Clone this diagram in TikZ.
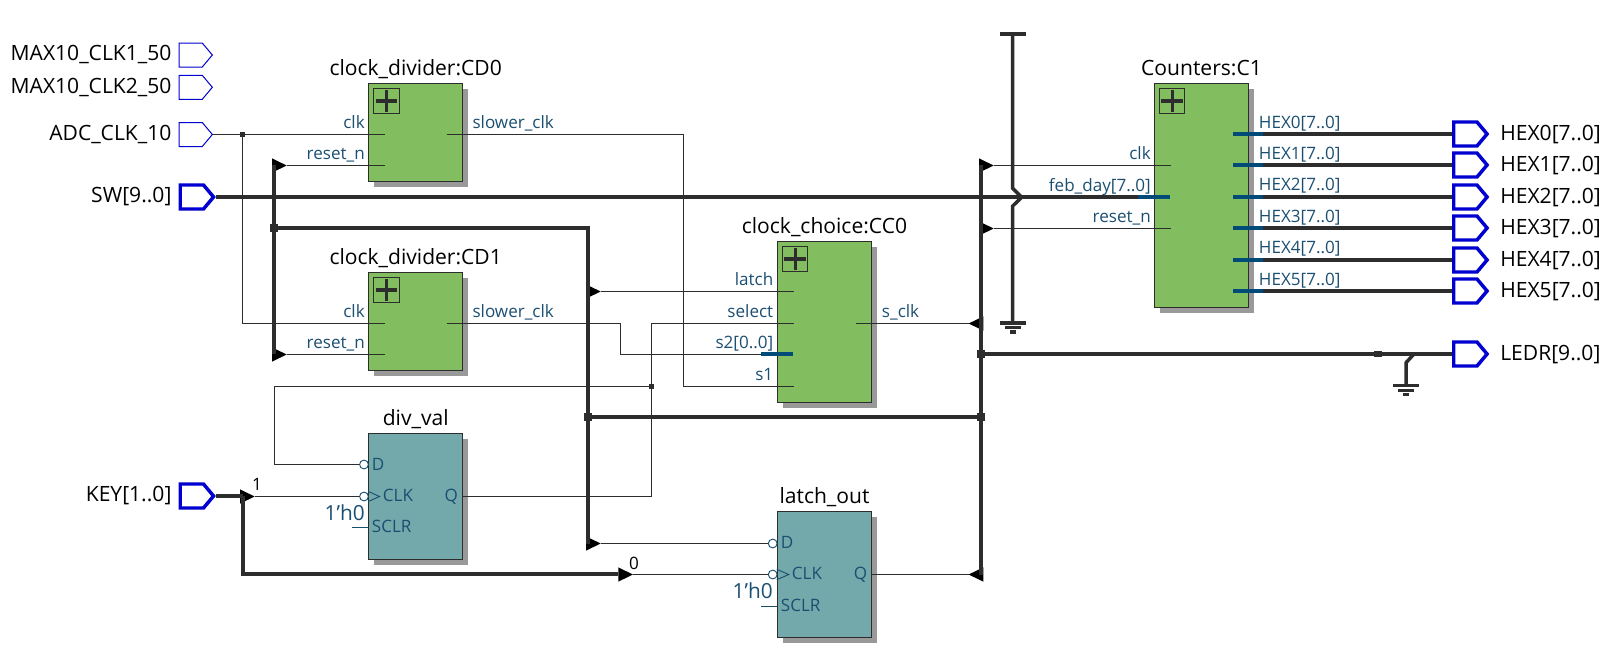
\documentclass[tikz,border=0pt]{standalone}
\usepackage{fontspec}
\setmainfont{Open Sans}
\usetikzlibrary{positioning,shapes.symbols,shapes.geometric,shadows}

\definecolor{wirecol}{HTML}{2D2D2D}
\definecolor{pincol}{HTML}{1B4F72}
\definecolor{pinbus}{HTML}{004B78}
\definecolor{portcol}{HTML}{0000D0}
\definecolor{modgreen}{HTML}{82BE5F}
\definecolor{regteal}{HTML}{74A9AB}
\definecolor{shadowcol}{HTML}{999999}

\tikzstyle{module}   = [rectangle, draw=wirecol, line width=0.75pt, inner sep=0pt, minimum width=70.8pt
                       , drop shadow={shadow xshift=4.1pt, shadow yshift=-4.1pt, fill=shadowcol, opacity=1}]
\tikzstyle{hier}     = [module, fill=modgreen]
\tikzstyle{reg}      = [module, fill=regteal, minimum height=94.5pt]
\tikzstyle{expander} = [rectangle, draw=wirecol, line width=0.7pt, inner sep=0pt, minimum size=19pt, anchor=north west
                       , path picture={\draw[wirecol, line width=2.6pt]
                           ([yshift=-1.4pt]path picture bounding box.north) -- ([yshift=1.4pt]path picture bounding box.south)
                           ([xshift=1.4pt]path picture bounding box.west) -- ([xshift=-1.4pt]path picture bounding box.east);}]
\tikzstyle{inport}   = [signal, signal to=east, signal pointer angle=100, draw=portcol, inner sep=0pt
                       , minimum width=25pt, minimum height=18pt, anchor=west, line width=0.75pt]
\tikzstyle{busport}  = [inport, line width=2.6pt]
\tikzstyle{portname} = [inner sep=0pt, font=\fontsize{15.8}{16}\selectfont, text=black]
\tikzstyle{title}    = [portname, anchor=base]
\tikzstyle{pinname}  = [inner sep=0pt, font=\fontsize{12.8}{13}\selectfont, text=pincol]
\tikzstyle{initval}  = [pinname, anchor=base east, font=\fontsize{15.6}{16}\selectfont]
\tikzstyle{selname}  = [inner sep=0pt, font=\fontsize{12.8}{13}\selectfont, text=black]
\tikzstyle{wire}     = [draw=wirecol, line width=0.75pt]
\tikzstyle{bus}      = [draw=wirecol, line width=3pt]
\tikzstyle{buspin}   = [draw=pinbus, line width=2.6pt]
\tikzstyle{stub}     = [draw=pincol, line width=0.75pt]
\tikzstyle{supply}   = [draw=wirecol, line width=2.6pt]
\tikzstyle{ripper}   = [isosceles triangle, isosceles triangle stretches, fill=black, inner sep=0pt, outer sep=0pt
                       , minimum width=10.7pt, minimum height=11pt, anchor=lower side]
\tikzstyle{ripleft}  = [ripper, shape border rotate=180]
\tikzstyle{dot}      = [rectangle, fill=wirecol, inner sep=0pt, minimum size=3.8pt]
\tikzstyle{busdot}   = [rectangle, fill=wirecol, inner sep=0pt, minimum size=6pt]
\tikzstyle{bubble}   = [circle, draw=pincol, line width=0.7pt, inner sep=0pt, minimum size=6.6pt]

\begin{document}
\begin{tikzpicture}[x=0.75pt, y=-0.75pt]
\useasboundingbox (0,0) rectangle (1613,669);

%% Input ports
\node [inport] (CLK1-Port) at (178.5,55) {};
\node [portname, anchor=base east] (CLK1-Name) at (171.7,60.7) {MAX10\_CLK1\_50};
\node [inport] (CLK2-Port) at (178.5,87.3) {};
\node [portname, anchor=base east] (CLK2-Name) at (171.7,93) {MAX10\_CLK2\_50};
\node [inport] (ADC-Port) at (178.5,134.5) {};
\node [portname, anchor=base east] (ADC-Name) at (171.7,140) {ADC\_CLK\_10};
\node [busport] (SW-Port) at (178.5,197) {};
\node [portname, anchor=base east] (SW-Name) at (171.7,202.7) {SW[9..0]};
\node [busport] (KEY-Port) at (178.5,496) {};
\node [portname, anchor=base east] (KEY-Name) at (171.7,501.7) {KEY[1..0]};

%% clock_divider:CD0 Node
\node [hier, minimum height=73.8pt] (CD0-Block) at (415.7,132.5) {};
\node [title] (CD0-Title) at (415.7,75) {clock\_divider:CD0};
\node [expander] (CD0-Plus) at ([xshift=4pt,yshift=-3.8pt]CD0-Block.north west) {};
\node [pinname, anchor=base east] (CD0-ClkName) at (365,128) {clk};
\node [pinname, anchor=base east] (CD0-RstName) at (365,159.5) {reset\_n};
\node [pinname, anchor=base west] (CD0-OutName) at (472.3,128) {slower\_clk};
\coordinate (CD0-Clk) at (385,134.5);
\coordinate (CD0-Rst) at (385,165.5);
\coordinate (CD0-Out) at (446.7,134.5);

%% clock_divider:CD1 Node
\node [hier, minimum height=73.8pt] (CD1-Block) at (415.7,321.5) {};
\node [title] (CD1-Title) at (415.7,264) {clock\_divider:CD1};
\node [expander] (CD1-Plus) at ([xshift=4pt,yshift=-3.8pt]CD1-Block.north west) {};
\node [pinname, anchor=base east] (CD1-ClkName) at (365,317) {clk};
\node [pinname, anchor=base east] (CD1-RstName) at (365,348.5) {reset\_n};
\node [pinname, anchor=base west] (CD1-OutName) at (472.3,317) {slower\_clk};
\coordinate (CD1-Clk) at (385,323.5);
\coordinate (CD1-Rst) at (385,354.5);
\coordinate (CD1-Out) at (446.7,323.5);

%% clock_choice:CC0 Node
\node [hier, minimum height=120.75pt] (CC0-Block) at (824.5,321.8) {};
\node [title] (CC0-Title) at (824.5,233) {clock\_choice:CC0};
\node [expander] (CC0-Plus) at ([xshift=4pt,yshift=-3.8pt]CC0-Block.north west) {};
\node [pinname, anchor=base east] (CC0-LatchName) at (773.5,285.3) {latch};
\node [pinname, anchor=base east] (CC0-SelName) at (773.5,317.5) {select};
\node [pinname, anchor=base east] (CC0-S2Name) at (773.5,348.5) {s2[0..0]};
\node [pinname, anchor=base east] (CC0-S1Name) at (773.5,380.5) {s1};
\node [pinname, anchor=base west] (CC0-OutName) at (881.7,317.5) {s\_clk};
\coordinate (CC0-Latch) at (793.7,291.5);
\coordinate (CC0-Sel) at (793.7,323.5);
\coordinate (CC0-S2) at (792.7,354);
\coordinate (CC0-S2Out) at (761.3,354);
\coordinate (CC0-S1) at (793.7,386.5);
\coordinate (CC0-Out) at (856,323.5);

%% Counters:C1 Node
\node [hier, minimum height=168pt] (C1-Block) at (1201.5,195.3) {};
\node [title] (C1-Title) at (1201.5,75) {Counters:C1};
\node [expander] (C1-Plus) at ([xshift=4pt,yshift=-3.8pt]C1-Block.north west) {};
\node [pinname, anchor=base east] (C1-ClkName) at (1151,159.5) {clk};
\node [pinname, anchor=base east] (C1-FebName) at (1151,191) {feb\_day[7..0]};
\node [pinname, anchor=base east] (C1-RstName) at (1151,222.5) {reset\_n};
\coordinate (C1-Clk) at (1170.7,165.5);
\coordinate (C1-Feb) at (1170,197);
\coordinate (C1-FebOut) at (1137.7,197);
\coordinate (C1-Rst) at (1170.7,228.5);

%% div_val Node
\node [reg] (DV-Block) at (415.7,496.5) {};
\node [title] (DV-Title) at (415.7,425) {div\_val};
\node [pinname, anchor=base west] (DV-DName) at (371.7,470) {D};
\node [pinname, anchor=base west] (DV-ClkName) at (382.7,501.7) {CLK};
\node [pinname, anchor=base west] (DV-SclrName) at (371.7,532.5) {SCLR};
\node [pinname, anchor=base east] (DV-QName) at (458.3,501.7) {Q};
\node [initval] (DV-Init) at (365,520) {1'h0};
\node [bubble] (DV-D) at (364,464.5) {};
\node [bubble] (DV-Clk) at (364,496.5) {};
\coordinate (DV-Sclr) at (352,527.5);
\coordinate (DV-Q) at (463,496.5);

%% latch_out Node
\node [reg] (LO-Block) at (824.5,574.5) {};
\node [title] (LO-Title) at (824.5,503) {latch\_out};
\node [pinname, anchor=base west] (LO-DName) at (780.7,548.5) {D};
\node [pinname, anchor=base west] (LO-ClkName) at (791.7,579.7) {CLK};
\node [pinname, anchor=base west] (LO-SclrName) at (780.7,611.5) {SCLR};
\node [pinname, anchor=base east] (LO-QName) at (867.3,579.7) {Q};
\node [initval] (LO-Init) at (773,598) {1'h0};
\node [bubble] (LO-D) at (772.7,543.5) {};
\node [bubble] (LO-Clk) at (772.7,574.5) {};
\coordinate (LO-Sclr) at (761.3,606.5);
\coordinate (LO-Q) at (871.7,574.5);

%% Output ports
\node [busport] (HEX0-Port) at (1452,134) {};
\node [portname, anchor=base west] (HEX0-Name) at (1500,140) {HEX0[7..0]};
\node [pinname, anchor=base west] (HEX0-Pin) at (1258.7,128.3) {HEX0[7..0]};
\node [busport] (HEX1-Port) at (1452,165) {};
\node [portname, anchor=base west] (HEX1-Name) at (1500,171) {HEX1[7..0]};
\node [pinname, anchor=base west] (HEX1-Pin) at (1258.7,159.5) {HEX1[7..0]};
\node [busport] (HEX2-Port) at (1452,197) {};
\node [portname, anchor=base west] (HEX2-Name) at (1500,203) {HEX2[7..0]};
\node [pinname, anchor=base west] (HEX2-Pin) at (1258.7,190.5) {HEX2[7..0]};
\node [busport] (HEX3-Port) at (1452,228) {};
\node [portname, anchor=base west] (HEX3-Name) at (1500,234) {HEX3[7..0]};
\node [pinname, anchor=base west] (HEX3-Pin) at (1258.7,222) {HEX3[7..0]};
\node [busport] (HEX4-Port) at (1452,260) {};
\node [portname, anchor=base west] (HEX4-Name) at (1500,266) {HEX4[7..0]};
\node [pinname, anchor=base west] (HEX4-Pin) at (1258.7,253) {HEX4[7..0]};
\node [busport] (HEX5-Port) at (1452,291) {};
\node [portname, anchor=base west] (HEX5-Name) at (1500,297) {HEX5[7..0]};
\node [pinname, anchor=base west] (HEX5-Pin) at (1258.7,285) {HEX5[7..0]};
\node [busport] (LEDR-Port) at (1452,354) {};
\node [portname, anchor=base west] (LEDR-Name) at (1500,360) {LEDR[9..0]};
\coordinate (HEX0-Out) at (1233,134);
\coordinate (HEX1-Out) at (1233,165);
\coordinate (HEX2-Out) at (1233,197);
\coordinate (HEX3-Out) at (1233,228);
\coordinate (HEX4-Out) at (1233,260);
\coordinate (HEX5-Out) at (1233,291);
\coordinate (HEX0-Mid) at (1263,134);
\coordinate (HEX1-Mid) at (1263,165);
\coordinate (HEX2-Mid) at (1263,197);
\coordinate (HEX3-Mid) at (1263,228);
\coordinate (HEX4-Mid) at (1263,260);
\coordinate (HEX5-Mid) at (1263,291);

%% Bus rippers and junctions
\node [busdot] (Rst-Dot) at (274,228) {};
\node [busdot] (Latch-Dot) at (588,417) {};
\node [busdot] (Right-Dot) at (981,417) {};
\node [busdot] (Ledr-Dot) at (981,354) {};
\node [dot] (Adc-Dot) at (242.5,134.5) {};
\node [dot] (Sel-Dot) at (651.5,386.5) {};
\node [ripper] (Rip-CD0) at (272,165.5) {};
\node [ripper] (Rip-CD1) at (272,354.5) {};
\node [ripper] (Rip-Latch) at (586,291.5) {};
\node [ripper] (Rip-LoD) at (586,543.5) {};
\node [ripper] (Rip-C1Clk) at (979,165.5) {};
\node [ripper] (Rip-C1Rst) at (979,228.5) {};
\node [ripper] (Rip-Key1) at (240,496.5) {};
\node [ripper] (Rip-Key0) at (618.3,574.5) {};
\node [ripleft] (Rip-Sclk) at (983.3,323.5) {};
\node [ripleft] (Rip-Q) at (983.3,574.5) {};
\node [selname] (Key1-Name) at (257,484) {1};
\node [selname] (Key0-Name) at (634,563.3) {0};
\coordinate (Key-Corner) at (242.5,496);
\coordinate (Key-Branch) at (618.3,574);

%% Thin wires
\draw [wire] (ADC-Port.east) -- (CD0-Clk);
\draw [wire] (Adc-Dot) |- (CD1-Clk);
\draw [wire] (Rip-CD0.apex) -- (CD0-Rst);
\draw [wire] (Rip-CD1.apex) -- (CD1-Rst);
\draw [wire] (CD0-Out) -| (683.5,386.5) -- (CC0-S1);
\draw [wire] (CD1-Out) -| (620.5,354.5) -- (CC0-S2Out |- 620.5,354.5);
\draw [wire] (Rip-Latch.apex) -- (CC0-Latch);
\draw [wire] (DV-Q) -| (Sel-Dot) |- (CC0-Sel);
\draw [wire] (Sel-Dot) -| (274.5,464.5) -- (DV-D.west);
\draw [wire] (Rip-Key1.apex) -- (DV-Clk.west);
\draw [wire] (Rip-Key0.apex) -- (LO-Clk.west);
\draw [wire] (Rip-LoD.apex) -- (LO-D.west);
\draw [wire] (LO-Q) -- (Rip-Q.apex);
\draw [wire] (CC0-Out) -- (Rip-Sclk.apex);
\draw [wire] (Rip-C1Clk.apex) -- (C1-Clk);
\draw [wire] (Rip-C1Rst.apex) -- (C1-Rst);
\draw [stub] (DV-Sclr) -- (DV-Block.west |- DV-Sclr);
\draw [stub] (LO-Sclr) -- (LO-Block.west |- LO-Sclr);

%% Clock triangles on the registers
\draw [stub, line width=0.7pt] ([yshift=3.9pt]DV-Block.west) -- (379.5,496.5) -- ([yshift=-3.9pt]DV-Block.west);
\draw [stub, line width=0.7pt] ([yshift=3.9pt]LO-Block.west) -- (788.7,574.5) -- ([yshift=-3.9pt]LO-Block.west);

%% Buses
\draw [bus] (SW-Port.east) -- (C1-FebOut);
\draw [bus] (KEY-Port.east) -- (Key-Corner);
\draw [bus] (Key-Corner) |- (Key-Branch);
\draw [bus] (274,165) -- (274,354);
\draw [bus] (Rst-Dot) -| (Rip-LoD.lower side -| Latch-Dot);
\draw [bus] (Latch-Dot) -- (Right-Dot);
\draw [bus] (981,165) -- (981,575);
\draw [bus] (Ledr-Dot) -- (LEDR-Port.west);
\draw [bus, line width=4pt] (1374,354) -- (1382,354);
\draw [bus] (HEX0-Mid) -- (HEX0-Port.west);
\draw [bus] (HEX1-Mid) -- (HEX1-Port.west);
\draw [bus] (HEX2-Mid) -- (HEX2-Port.west);
\draw [bus] (HEX3-Mid) -- (HEX3-Port.west);
\draw [bus] (HEX4-Mid) -- (HEX4-Port.west);
\draw [bus] (HEX5-Mid) -- (HEX5-Port.west);

%% Thick pin ends
\draw [buspin] (C1-FebOut) -- (C1-Feb);
\draw [buspin] (CC0-S2Out) -- (CC0-S2);
\draw [buspin] (HEX0-Out) -- (HEX0-Mid);
\draw [buspin] (HEX1-Out) -- (HEX1-Mid);
\draw [buspin] (HEX2-Out) -- (HEX2-Mid);
\draw [buspin] (HEX3-Out) -- (HEX3-Mid);
\draw [buspin] (HEX4-Out) -- (HEX4-Mid);
\draw [buspin] (HEX5-Out) -- (HEX5-Mid);

%% Supply and ground symbols
\draw [supply] (1000,34) -- (1025.7,34);
\draw [supply] (1012.7,34) -- (1012.7,188.3) -- (1021.7,197.3) -- (1012.7,206) -- (1012.7,323);
\draw [supply] (1000,323) -- (1025.7,323);
\draw [supply] (1005,327.7) -- (1021,327.7);
\draw [supply] (1010,332) -- (1016,332);
\draw [supply] (1414,354) -- (1406,362.7) -- (1406,385.7);
\draw [supply] (1393,385.7) -- (1419,385.7);
\draw [supply] (1398,390.4) -- (1414,390.4);
\draw [supply] (1403,394.7) -- (1409,394.7);

\end{tikzpicture}
\end{document}
